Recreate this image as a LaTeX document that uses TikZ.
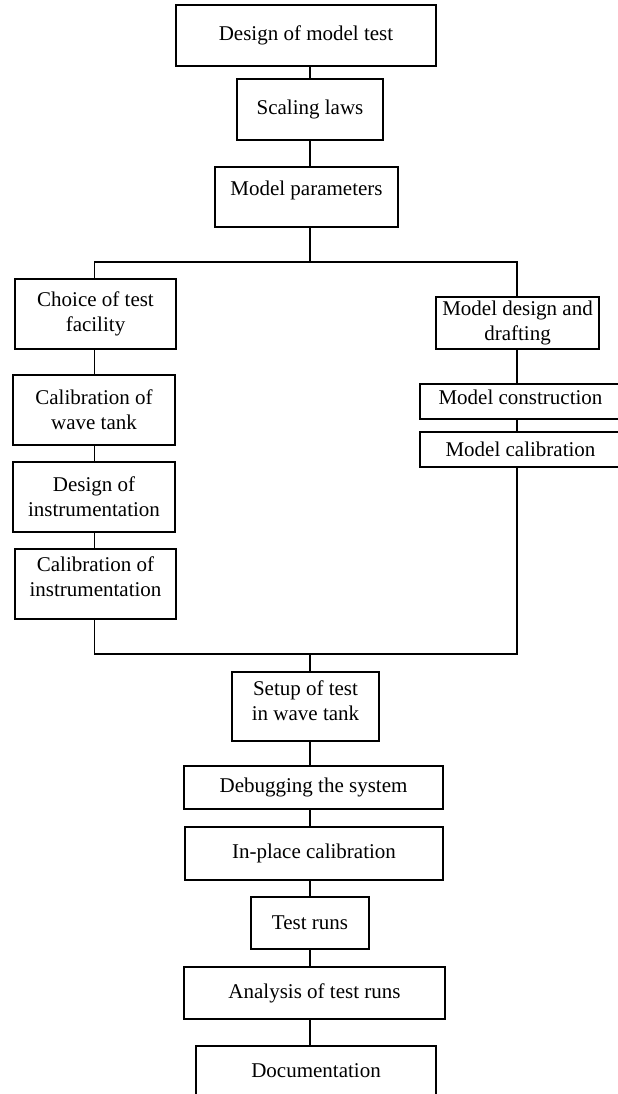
\documentclass[tikz,border=0pt]{standalone}
\usepackage{fontspec}
\setmainfont{Liberation Serif}
\begin{document}
\begin{tikzpicture}[x=0.75pt,y=-0.75pt,
  box/.style={draw=black, line width=1pt, fill=white, inner sep=0pt, align=center,
    font=\fontsize{15.75pt}{18.75pt}\selectfont},
  conn/.style={draw=black, line width=0.9pt}]
\useasboundingbox (0,0) rectangle (617,1094);
% boxes
\node[box, minimum width=260*0.75pt, minimum height=61*0.75pt] (dmt) at (306,35.5) {Design of model test};
\node[box, minimum width=146*0.75pt, minimum height=61*0.75pt] (sl) at (310,109.5) {Scaling laws};
\node[box, minimum width=183*0.75pt, minimum height=60*0.75pt, text depth=12.5pt] (mp) at (306.5,197) {Model parameters};
\node[box, minimum width=161*0.75pt, minimum height=70*0.75pt] (ctf) at (95.5,314) {Choice of test\\facility};
\node[box, minimum width=163*0.75pt, minimum height=52*0.75pt] (mdd) at (517.5,323) {Model design and\\drafting};
\node[box, minimum width=162*0.75pt, minimum height=70*0.75pt] (cwt) at (94,410) {Calibration of\\wave tank};
\node[box, minimum width=162*0.75pt, minimum height=70*0.75pt] (di) at (94,497) {Design of\\instrumentation};
\node[box, minimum width=161*0.75pt, minimum height=70*0.75pt, text depth=10.5pt] (ci) at (95.5,584) {Calibration of\\instrumentation};
\node[box, minimum width=201*0.75pt, minimum height=35*0.75pt, text depth=6pt] (mc) at (520.5,401.5) {Model construction};
\node[box, minimum width=201*0.75pt, minimum height=35*0.75pt] (mcal) at (520.5,449.5) {Model calibration};
\node[box, minimum width=147*0.75pt, minimum height=69*0.75pt, text depth=9pt] (setup) at (305.5,706.5) {Setup of test\\in wave tank};
\node[box, minimum width=259*0.75pt, minimum height=43*0.75pt] (dbg) at (313.5,787.5) {Debugging the system};
\node[box, minimum width=258*0.75pt, minimum height=53*0.75pt] (ipc) at (314,853.5) {In-place calibration};
\node[box, minimum width=118*0.75pt, minimum height=52*0.75pt] (tr) at (310,923) {Test runs};
\node[box, minimum width=261*0.75pt, minimum height=52*0.75pt] (ats) at (314.5,993) {Analysis of test runs};
\node[box, minimum width=240*0.75pt, minimum height=50*0.75pt] (doc) at (316,1071) {Documentation};
% connector guides
\coordinate (spine) at (310,0);
\coordinate (lft) at (94.5,0);
\coordinate (rgt) at (517,0);
\coordinate (busT) at (310,262);
\coordinate (busB) at (310,654);
% connectors
\draw[conn] (dmt.south -| spine) -- (sl.north -| spine);
\draw[conn] (sl.south -| spine) -- (mp.north -| spine);
\draw[conn] (mp.south -| spine) -- (busT);
\draw[conn] (ctf.north -| lft) |- (busT) -| (mdd.north -| rgt);
\draw[conn] (ctf.south -| lft) -- (cwt.north -| lft);
\draw[conn] (cwt.south -| lft) -- (di.north -| lft);
\draw[conn] (di.south -| lft) -- (ci.north -| lft);
\draw[conn] (mdd.south -| rgt) -- (mc.north -| rgt);
\draw[conn] (mc.south -| rgt) -- (mcal.north -| rgt);
\draw[conn] (ci.south -| lft) |- (busB) -| (mcal.south -| rgt);
\draw[conn] (busB) -- (setup.north -| spine);
\draw[conn] (setup.south -| spine) -- (dbg.north -| spine);
\draw[conn] (dbg.south -| spine) -- (ipc.north -| spine);
\draw[conn] (ipc.south -| spine) -- (tr.north -| spine);
\draw[conn] (tr.south -| spine) -- (ats.north -| spine);
\draw[conn] (ats.south -| spine) -- (doc.north -| spine);
\end{tikzpicture}
\end{document}
